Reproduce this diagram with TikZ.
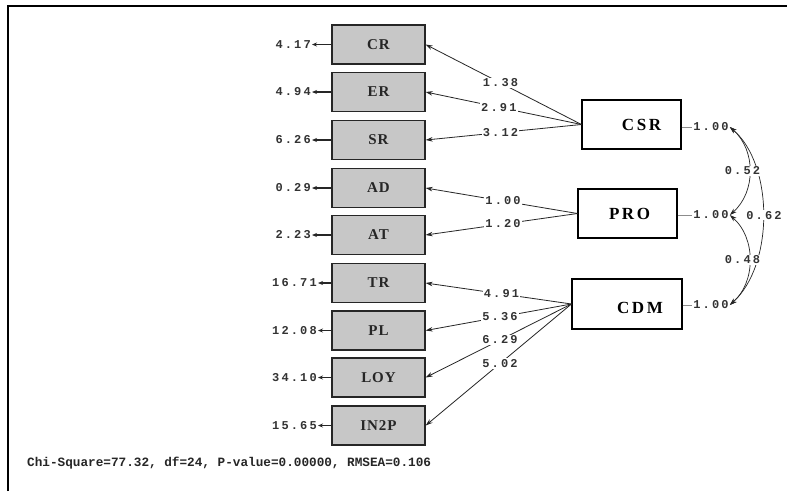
\documentclass[tikz,border=0pt]{standalone}
\usepackage{fontspec}
\setmainfont{Liberation Serif}
\newfontfamily\numfont[LetterSpace=18]{Liberation Mono}
\newfontfamily\chifont{Liberation Mono}
\newfontfamily\latfont[LetterSpace=15]{Liberation Serif}
\newfontfamily\indfont[LetterSpace=6]{Liberation Serif}
\usetikzlibrary{arrows.meta,positioning,calc}
\begin{document}
\begin{tikzpicture}[x=1pt,y=-1pt,
 ind/.style={draw=black!85, line width=1.3pt, fill=black!22, minimum width=93pt, minimum height=39pt, inner sep=0pt, font=\indfont\bfseries\fontsize{15}{15}\selectfont, text=black!85},
 lat/.style={draw=black, line width=1.1pt, fill=white, minimum height=49pt, inner sep=0pt},
 lattext/.style={font=\latfont\bfseries\fontsize{17}{17}\selectfont},
 num/.style={font=\numfont\bfseries\fontsize{12}{12}\selectfont, inner sep=1pt, text=black!80},
 numw/.style={num, fill=white},
 arr/.style={-{Stealth[length=7pt,width=4.5pt]}, line width=0.8pt, draw=black!85},
 err/.style={-{Stealth[length=5pt,width=4pt]}, line width=1.3pt, draw=black!85},
 cov/.style={{Stealth[length=7pt,width=4.5pt]}-{Stealth[length=7pt,width=4.5pt]}, line width=0.7pt, draw=black!85},
 vline/.style={draw=black!45, line width=0.5pt},
]
\useasboundingbox (0,0) rectangle (787,491);
\fill[white] (0,0) rectangle (787,491);
\draw[line width=2.5pt] (8,491) -- (8,6) -- (787,6);

% indicators
\node[ind] (CR) at (378.5,44.5) {CR};
\node[ind] (ER) at (378.5,92) {ER};
\node[ind] (SR) at (378.5,140) {SR};
\node[ind] (AD) at (378.5,188) {AD};
\node[ind] (AT) at (378.5,235) {AT};
\node[ind] (TR) at (378.5,283) {TR};
\node[ind] (PL) at (378.5,330.5) {PL};
\node[ind] (LOY) at (378.5,377.5) {LOY};
\node[ind] (IN2P) at (378.5,425.5) {IN2P};

% error variances
\node[num, anchor=east] (eCR) at (312,44.5) {4.17};
\node[num, anchor=east] (eER) at (312,92) {4.94};
\node[num, anchor=east] (eSR) at (312,140) {6.26};
\node[num, anchor=east] (eAD) at (312,188) {0.29};
\node[num, anchor=east] (eAT) at (312,235) {2.23};
\node[num, anchor=east] (eTR) at (318,283) {16.71};
\node[num, anchor=east] (ePL) at (318,330.5) {12.08};
\node[num, anchor=east] (eLOY) at (318,377.5) {34.10};
\node[num, anchor=east] (eIN2P) at (318,425.5) {15.65};
\foreach \i in {CR,ER,SR,AD,AT,TR,PL,LOY,IN2P}
  \draw[err] (\i.west) -- (e\i.east);

% latent
\node[lat, minimum width=99pt, label={[lattext,xshift=10pt]center:CSR}] (CSR) at (631.5,124.5) {};
\node[lat, minimum width=99pt, label={[lattext,xshift=2pt]center:PRO}] (PRO) at (627.5,213.5) {};
\node[lat, minimum width=110pt, minimum height=50pt, label={[lattext,xshift=13pt,yshift=-4pt]center:CDM}] (CDM) at (627,304) {};

% loadings
\draw[arr] (CSR.west) -- node[numw,pos=0.52]{1.38} (CR.east);
\draw[arr] (CSR.west) -- node[numw,pos=0.53]{2.91} (ER.east);
\draw[arr] (CSR.west) -- node[numw,pos=0.52]{3.12} (SR.east);
\draw[arr] (PRO.west) -- node[numw,pos=0.49]{1.00} (AD.east);
\draw[arr] (PRO.west) -- node[numw,pos=0.49]{1.20} (AT.east);
\draw[arr] (CDM.west) -- node[numw,pos=0.48]{4.91} (TR.east);
\draw[arr] (CDM.west) -- node[numw,pos=0.49]{5.36} (PL.east);
\draw[arr] (CDM.west) -- node[numw,pos=0.49]{6.29} (LOY.east);
\draw[arr] (CDM.west) -- node[numw,pos=0.49]{5.02} (IN2P.east);

% latent variances
\node[num] (vCSR) at (711,127) {1.00};
\node[num] (vPRO) at (711,215) {1.00};
\node[num] (vCDM) at (711,305) {1.00};
\draw[vline] (CSR.east |- vCSR) -- (vCSR.west);
\draw[vline] (PRO.east |- vPRO) -- (vPRO.west);
\draw[vline] (CDM.east |- vCDM) -- (vCDM.west);

% covariances
\draw[cov] (vCSR.east) .. controls (774,165) and (774,265) .. node[numw,xshift=1pt]{0.62} (vCDM.east);
\draw[cov] (vCSR.east) .. controls (756,150) and (756,192) .. node[numw,xshift=-7pt]{0.52} (vPRO.east);
\draw[cov] (vPRO.east) .. controls (756,238) and (756,282) .. node[numw,xshift=-7pt]{0.48} (vCDM.east);

% fit
\node[font=\chifont\bfseries\fontsize{12.7}{13}\selectfont, anchor=west, inner sep=0pt, text=black!85] (chi) at (27,463) {Chi-Square=77.32, df=24, P-value=0.00000, RMSEA=0.106};
\end{tikzpicture}
\end{document}
